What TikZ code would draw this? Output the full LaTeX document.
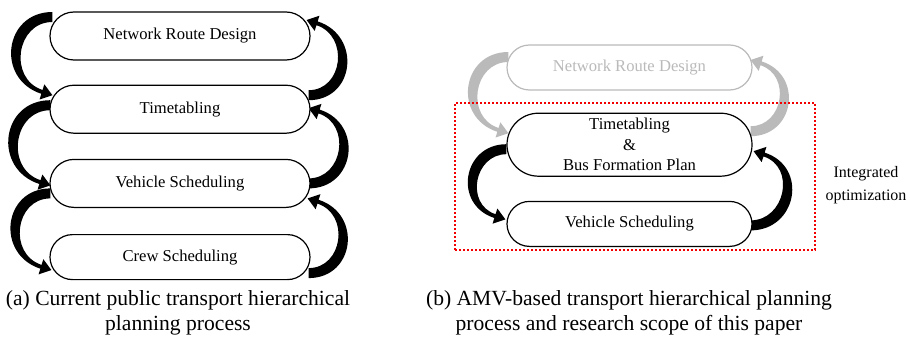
\documentclass[tikz,border=0pt]{standalone}
\usepackage{fontspec}
\setmainfont{Liberation Serif}
\usetikzlibrary{positioning, shapes.misc, backgrounds}
\colorlet{fadegray}{black!27}
\colorlet{scopered}{red!95!black}

% thick tapered arrow bulging to the left: #1 colour, #2 tail (upper edge), #3 tip
\newcommand{\bendleft}[3]{%
  \fill[#1] (#2) to[out=180,in=162,looseness=1.5] ([shift={(-11.05,1.4)}]#3)
    -- ([shift={(-12.85,-4.3)}]#3) -- (#3) -- ([shift={(-8.05,10.9)}]#3)
    -- ([shift={(-9.85,5.2)}]#3) to[out=162,in=180,looseness=1.35] ([shift={(0,-10)}]#2) -- cycle;}
% same, bulging to the right: #2 tail (lower edge), #3 tip
\newcommand{\bendright}[3]{%
  \fill[#1] (#2) to[out=0,in=-18,looseness=1.5] ([shift={(11.05,-1.4)}]#3)
    -- ([shift={(12.85,4.3)}]#3) -- (#3) -- ([shift={(8.05,-10.9)}]#3)
    -- ([shift={(9.85,-5.2)}]#3) to[out=-18,in=0,looseness=1.35] ([shift={(0,10)}]#2) -- cycle;}

\begin{document}
\begin{tikzpicture}[x=0.5pt, y=0.5pt,
    stage/.style={rounded rectangle, draw, line width=0.6pt, fill=white, inner sep=0pt,
      minimum width=130pt, minimum height=24pt, align=center,
      font=\fontsize{8.3}{10.3}\selectfont},
    caption/.style={align=center, font=\fontsize{10.8}{12.5}\selectfont}]
  \useasboundingbox (0,0) rectangle (910,338);

  % (a) current planning chain
  \node[stage] (nrd) at (180,302) {Network Route Design};
  \node[stage, below=12pt of nrd] (tt) {Timetabling};
  \node[stage, below=12.5pt of tt] (vs) {Vehicle Scheduling};
  \node[stage, below=13pt of vs, minimum height=22.5pt] (cs) {Crew Scheduling};

  \coordinate (l1s) at ([shift={(3,24)}]nrd.west);
  \coordinate (l1e) at ([shift={(3,14)}]tt.west);
  \coordinate (l2s) at ([shift={(1,9)}]tt.west);
  \coordinate (l2e) at ([shift={(1,-2)}]vs.west);
  \coordinate (l3s) at ([shift={(1,-5)}]vs.west);
  \coordinate (l3e) at ([shift={(2,-13)}]cs.west);
  \coordinate (r1s) at ([shift={(-2,9)}]tt.east);
  \coordinate (r1e) at ([shift={(-4,16)}]nrd.east);
  \coordinate (r2s) at ([shift={(-2,-5)}]vs.east);
  \coordinate (r2e) at ([shift={(-2,1)}]tt.east);
  \coordinate (r3s) at ([shift={(-2,-21)}]cs.east);
  \coordinate (r3e) at ([shift={(-3,-15)}]vs.east);

  \begin{pgfonlayer}{background}
    \foreach \s/\e in {l1s/l1e, l2s/l2e, l3s/l3e} { \bendleft{black}{\s}{\e} }
    \foreach \s/\e in {r1s/r1e, r2s/r2e, r3s/r3e} { \bendright{black}{\s}{\e} }
  \end{pgfonlayer}

  \node[caption] (capa) at (178,25.5) {(a) Current public transport hierarchical\\planning process};

  % (b) AMV-based chain
  \node[stage, minimum width=122.5pt, minimum height=22.5pt, draw=fadegray, text=fadegray]
    (nrdb) at (629.5,270.5) {Network Route Design};
  \node[stage, minimum width=122.5pt, minimum height=31.5pt, below=11pt of nrdb]
    (ttb) {Timetabling\\\&\\Bus Formation Plan};
  \node[stage, minimum width=122.5pt, minimum height=22.5pt, below=12pt of ttb]
    (vsb) {Vehicle Scheduling};

  \coordinate (gls) at ([shift={(2,15.5)}]nrdb.west);
  \coordinate (gle) at ([shift={(2,11.5)}]ttb.west);
  \coordinate (bls) at ([shift={(0,0.5)}]ttb.west);
  \coordinate (ble) at ([shift={(-1,4.5)}]vsb.west);
  \coordinate (grs) at ([shift={(-2,8.5)}]ttb.east);
  \coordinate (gre) at ([shift={(-2,7.5)}]nrdb.east);
  \coordinate (brs) at ([shift={(-2,-6.5)}]vsb.east);
  \coordinate (bre) at ([shift={(1,-6.5)}]ttb.east);

  \begin{pgfonlayer}{background}
    \bendleft{fadegray}{gls}{gle}
    \bendright{fadegray}{grs}{gre}
    \bendleft{black}{bls}{ble}
    \bendright{black}{brs}{bre}
  \end{pgfonlayer}

  \draw[scopered, line width=0.9pt, dash pattern=on 1.2pt off 0.8pt] (455,88) rectangle (815,235);
  \node[align=center, font=\fontsize{8}{11.5}\selectfont] (intopt) at (866,153)
    {Integrated\\optimization};

  \node[caption] (capb) at (629,25.5) {(b) AMV-based transport hierarchical planning\\process and research scope of this paper};
\end{tikzpicture}
\end{document}
